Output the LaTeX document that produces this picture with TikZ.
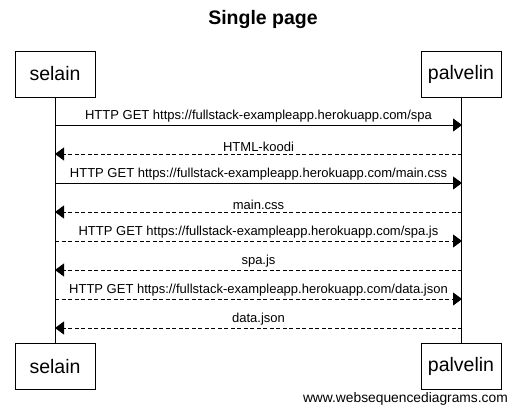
\documentclass[tikz,border=0pt]{standalone}
\usepackage{fontspec}
\setmainfont{Liberation Sans}
\usetikzlibrary{arrows.meta}
\tikzstyle{actor}=[rectangle,draw=black,fill=white,thin,inner sep=0pt,minimum width=80pt,minimum height=46pt,font=\fontsize{19.5}{22}\selectfont]
\tikzstyle{call}=[draw,line width=0.8pt,-{Triangle[length=9pt,width=13pt]}]
\tikzstyle{reply}=[call,dash pattern=on 4pt off 2.5pt]
\tikzstyle{msg}=[above,inner sep=2pt,font=\fontsize{13}{15}\selectfont]

\begin{document}
\begin{tikzpicture}[x=1pt,y=-1pt]
	\useasboundingbox (0,0) rectangle (526,414);
	\node at (263,20) [font=\fontsize{19.5}{22}\selectfont\bfseries] (title) {Single page};
	\node at (55,74) [actor] (selTop) {selain};
	\node at (461,74) [actor] (palTop) {palvelin};
	\node at (55,366.5) [actor] (selBot) {selain};
	\node at (461,366.5) [actor] (palBot) {palvelin};
	\draw[line width=0.8pt] (selTop) -- (selBot);
	\draw[line width=0.8pt] (palTop) -- (palBot);
	\foreach \i/\y in {1/125,2/154,3/183,4/212,5/241,6/270,7/299,8/328}{
		\coordinate (s\i) at (55,\y);
		\coordinate (p\i) at (462,\y);
	}
	\draw[call] (s1) -- node[msg] {HTTP GET https://fullstack-exampleapp.herokuapp.com/spa} (p1);
	\draw[reply] (p2) -- node[msg] {HTML-koodi} (s2);
	\draw[call] (s3) -- node[msg] {HTTP GET https://fullstack-exampleapp.herokuapp.com/main.css} (p3);
	\draw[reply] (p4) -- node[msg] {main.css} (s4);
	\draw[reply] (s5) -- node[msg] {HTTP GET https://fullstack-exampleapp.herokuapp.com/spa.js} (p5);
	\draw[reply] (p6) -- node[msg] {spa.js} (s6);
	\draw[reply] (s7) -- node[msg] {HTTP GET https://fullstack-exampleapp.herokuapp.com/data.json} (p7);
	\draw[reply] (p8) -- node[msg] {data.json} (s8);
	\node at (508,399) [anchor=east,inner sep=0pt,font=\fontsize{13.8}{16}\selectfont] (wsd) {www.websequencediagrams.com};
\end{tikzpicture}
\end{document}
